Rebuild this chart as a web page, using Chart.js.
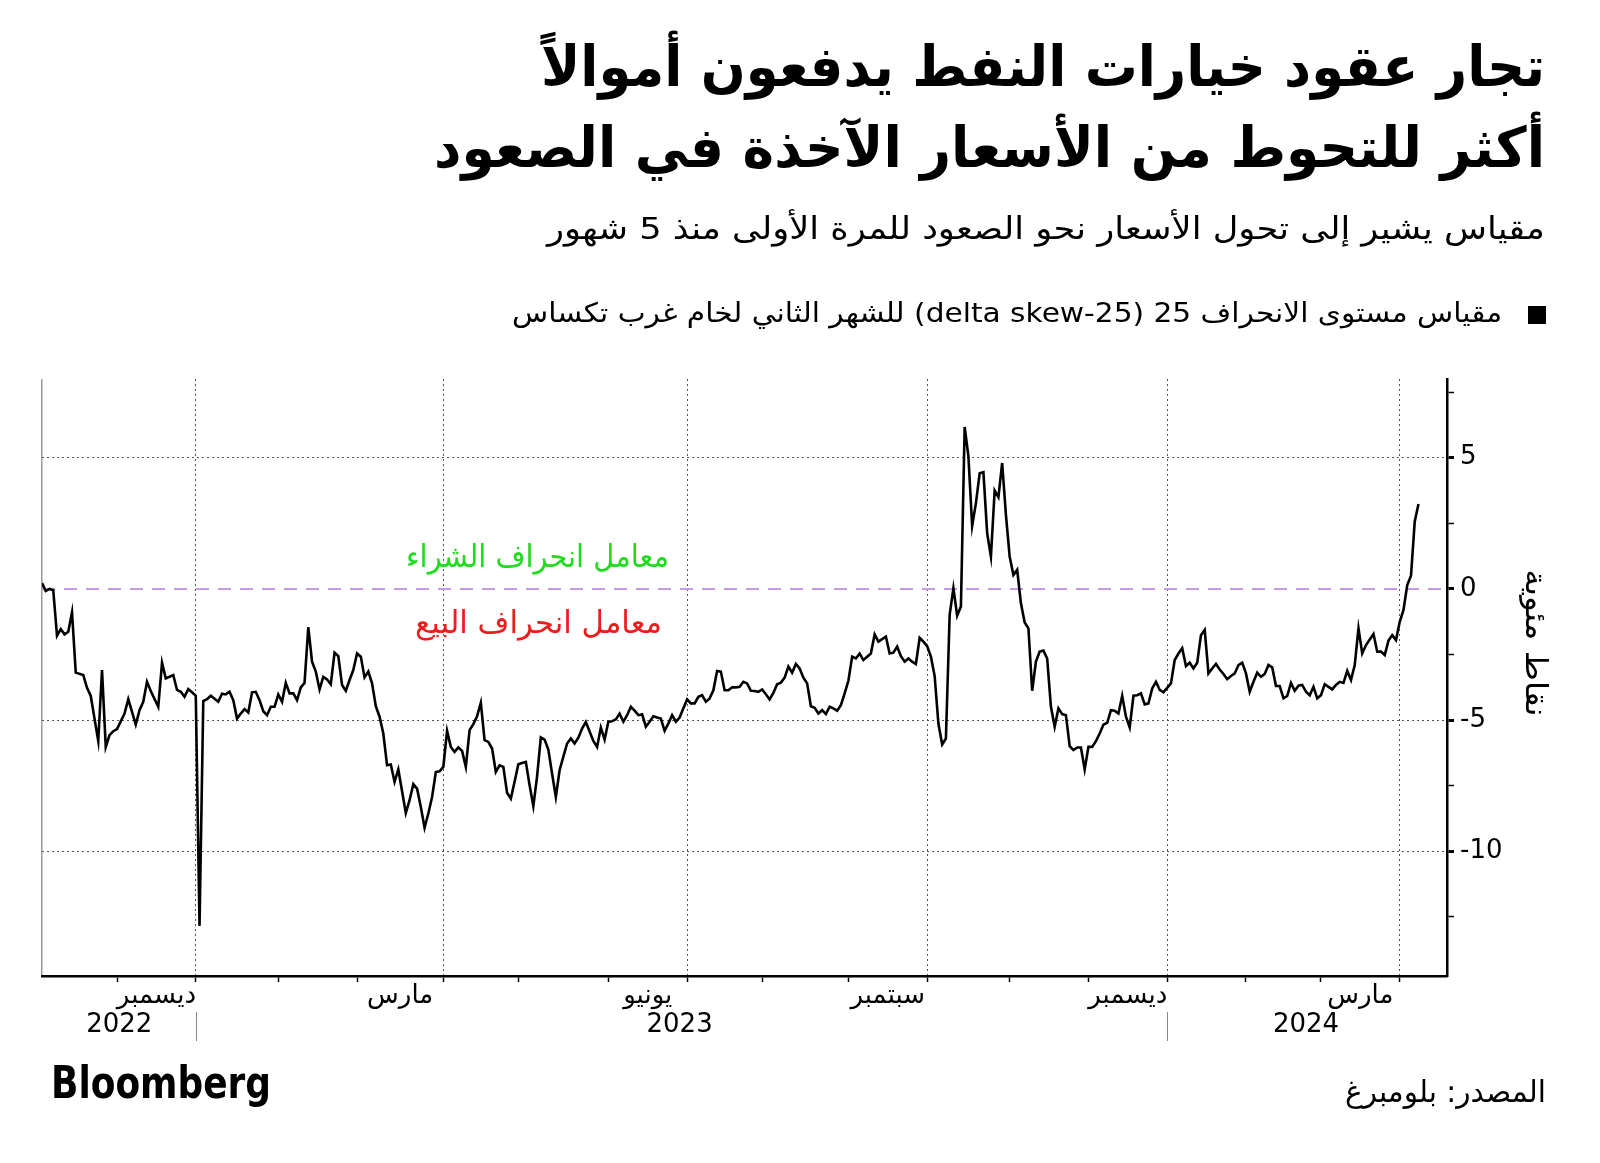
<!DOCTYPE html>
<html lang="ar">
<head>
<meta charset="utf-8">
<title>WTI 25 delta skew</title>
<script src="https://cdn.jsdelivr.net/npm/chart.js@4.4.1/dist/chart.umd.min.js"></script>
<style>
  html, body { margin: 0; padding: 0; background: #fff; }
  #wrap { width: 1600px; height: 1163px; }
</style>
</head>
<body>
<div id="wrap"><canvas id="chart" width="1600" height="1163"></canvas></div>
<script>
// ===== Data: x is the trading session counted from the first point =====
const sessions = [
  0, 1, 2, 3, 4, 5, 6, 7, 8, 9, 11, 12, 13, 15, 16, 17, 18, 19, 20, 22,
  23, 25, 26, 27, 28, 29, 31, 32, 33, 35, 36, 37, 38, 39, 40, 41, 42, 43, 44, 45,
  47, 48, 49, 50, 51, 52, 53, 54, 55, 56, 57, 58, 59, 60, 61, 62, 63,
  64, 65, 66, 67, 68, 69, 70, 71, 72, 73, 74, 75, 76, 77, 78, 79, 80, 81, 82, 83,
  84, 85, 86, 87, 88, 89, 90, 91, 92, 93, 94, 95, 97, 98, 99, 100, 101, 102, 103,
  104, 105, 106, 107, 108, 109, 110, 111, 112, 113, 114, 115, 116, 117, 118, 119,
  120, 121, 122, 123,
  124, 125, 126, 127, 128, 129, 130, 131, 132, 133, 134, 135, 136, 137, 138, 139,
  140, 141, 142, 143, 144, 145, 147, 148, 149, 150, 151, 152, 153, 154, 155, 156,
  157, 158, 159, 160, 161, 162, 163, 164, 165, 166, 167, 168, 169, 170, 171, 172,
  173, 174, 175, 176, 177, 178, 179, 180, 181, 182, 183, 184, 185,
  186, 187, 188, 189, 190, 191, 192, 193, 194, 195, 196, 197, 198, 199, 200, 201,
  202, 203, 204, 205, 206, 207, 208, 209, 210, 211, 212, 213, 214, 215, 216, 217,
  218, 219, 221, 222, 223, 225, 226, 227, 228, 229, 230, 231, 232, 233, 234, 235,
  236, 237, 238, 239, 240, 241, 242, 243, 244, 245, 246, 247,
  248, 249, 250, 251, 252, 253, 254, 255, 256, 257, 258, 259, 260, 261, 262, 263,
  264, 265, 266, 267, 268, 269, 270, 271, 272, 273, 274, 275, 276, 277, 278, 279,
  280, 281, 282, 283, 284, 285, 286, 287, 288, 289, 290, 291, 292, 293, 294, 295,
  296, 297, 298, 299, 301, 302, 303, 304, 305,
  306, 307, 308, 309, 310, 311, 312, 313, 314, 315, 316, 317, 318, 319, 320, 321,
  322, 323, 324, 325, 326, 327, 328, 329, 330, 331, 332, 333, 334, 335, 336, 337,
  338, 339, 340, 341, 342, 343, 344, 345, 346, 347, 348, 349, 350, 351, 352, 353,
  355, 356, 357, 358, 359, 360, 361, 362, 363, 364, 365, 366, 367
];
const skew = [
  0.22, -0.08, 0, -0.05, -1.78, -1.53, -1.73, -1.63, -0.89, -3.19, -3.28, -3.77, -4.08, -5.80, -3.09, -6.02, -5.57, -5.42, -5.34, -4.75,
  -4.20, -5.17, -4.62, -4.30, -3.54, -3.89, -4.49, -2.81, -3.41, -3.28, -3.85, -3.92, -4.11, -3.82, -3.94, -4.07, -12.84, -4.27, -4.20, -4.07,
  -4.30, -3.99, -4.02, -3.92, -4.24, -4.94, -4.75, -4.58, -4.71, -3.94, -3.92, -4.24, -4.66, -4.81, -4.49, -4.49, -4.02,
  -4.30, -3.58, -3.98, -3.98, -4.24, -3.75, -3.58, -1.46, -2.77, -3.15, -3.83, -3.35, -3.45, -3.63, -2.43, -2.56, -3.66, -3.88, -3.47, -3.09,
  -2.46, -2.58, -3.37, -3.15, -3.60, -4.47, -4.87, -5.51, -6.72, -6.69, -7.35, -6.88, -8.54, -8.05, -7.44, -7.61, -8.31, -9.10, -8.56,
  -7.93, -6.98, -6.95, -6.78, -5.41, -6.02, -6.21, -6.04, -6.17, -6.78, -5.38, -5.15, -4.85, -4.34, -5.76, -5.83,
  -6.08, -6.97, -6.72, -6.78,
  -7.77, -7.99, -7.35, -6.68, -6.63, -6.59, -7.48, -8.28, -7.14, -5.66, -5.74, -6.12, -7.04, -7.93, -6.91, -6.39,
  -5.89, -5.70, -5.89, -5.67, -5.32, -5.07, -5.79, -6.02, -5.28, -5.74, -5.06, -5.04, -4.97, -4.75, -5.06, -4.81,
  -4.49, -4.64, -4.81, -4.78, -5.25, -5.06, -4.85, -4.90, -4.94, -5.41, -5.13, -4.81, -5.06, -4.90, -4.55, -4.21,
  -4.36, -4.36, -4.11, -4.05, -4.30, -4.17, -3.86, -3.13, -3.15, -3.86, -3.86, -3.75, -3.75,
  -3.73, -3.54, -3.60, -3.88, -3.89, -3.92, -3.83, -4.01, -4.21, -3.96, -3.63, -3.57, -3.38, -2.96, -3.19, -2.86,
  -3.03, -3.38, -3.60, -4.47, -4.53, -4.75, -4.62, -4.77, -4.49, -4.55, -4.64, -4.43, -3.98, -3.50, -2.58, -2.65,
  -2.46, -2.71, -2.46, -1.73, -2.01, -1.82, -2.46, -2.43, -2.20, -2.56, -2.77, -2.65, -2.77, -2.86, -1.86, -2.01,
  -2.18, -2.58, -3.32, -5.13, -5.93, -5.70, -0.99, 0.03, -1.02, -0.67, 6.17, 5.05,
  2.40, 3.27, 4.41, 4.45, 2.12, 1.23, 3.75, 3.50, 4.80, 2.82, 1.23, 0.53, 0.73, -0.55, -1.28, -1.50,
  -3.88, -2.77, -2.39, -2.35, -2.65, -4.49, -5.25, -4.55, -4.77, -4.81, -5.99, -6.14, -6.04, -6.04, -6.88, -6.02,
  -6.02, -5.80, -5.51, -5.17, -5.10, -4.62, -4.64, -4.75, -4.07, -4.87, -5.28, -4.07, -4.05, -3.98, -4.40, -4.36,
  -3.79, -3.54, -3.85, -3.94, -3.60, -2.71, -2.46, -2.26, -2.94,
  -2.81, -3.03, -2.81, -1.76, -1.56, -3.22, -3.03, -2.86, -3.07, -3.24, -3.44, -3.32, -3.22, -2.90, -2.81, -3.22,
  -3.92, -3.54, -3.19, -3.35, -3.24, -2.90, -2.99, -3.70, -3.70, -4.17, -4.08, -3.58, -3.88, -3.69, -3.66, -3.92,
  -4.05, -3.73, -4.17, -4.05, -3.63, -3.73, -3.83, -3.66, -3.54, -3.58, -3.12, -3.47, -2.90, -1.50, -2.46, -2.14,
  -1.72, -2.39, -2.39, -2.52, -1.97, -1.76, -1.95, -1.25, -0.80, 0.15, 0.50, 2.57, 3.24
];

// month starts on the session axis
const monthStarts = [20, 41, 63, 84, 107, 127, 151, 172, 192, 215, 236, 258, 279, 300, 321, 341, 362];
const monthNames = ['نوفمبر', 'ديسمبر', 'يناير', 'فبراير', 'مارس', 'أبريل', 'مايو', 'يونيو',
  'يوليو', 'أغسطس', 'سبتمبر', 'أكتوبر', 'نوفمبر', 'ديسمبر', 'يناير', 'فبراير', 'مارس'];
const quarterMonths = ['ديسمبر', 'مارس', 'يونيو', 'سبتمبر'];
const yearNames = ['2022', '2023', '2024'];
const yearAt = [20.6, 170, 337];
const yearBreaks = [41, 300];

const yTicks = [-12.5, -10, -7.5, -5, -2.5, 0, 2.5, 5, 7.5];
const xMin = 0, xMax = 374.6;
const yMin = -14.75, yMax = 8;

const seriesLabel = 'مقياس مستوى الانحراف 25 (delta skew-25) للشهر الثاني لخام غرب تكساس';

// ===== x ticks: month starts, month labels, year labels =====
const xTickList = [{ value: xMin, kind: 'edge', label: '' }];
monthStarts.forEach((v, i) => {
  const q = quarterMonths.includes(monthNames[i]);
  xTickList.push({ value: v, kind: q ? 'grid' : 'tick', label: '' });
  if (q && i > 0) {
    xTickList.push({ value: (monthStarts[i - 1] + v) / 2, kind: 'label', label: monthNames[i] });
  }
});
yearAt.forEach((v, i) => xTickList.push({ value: v, kind: 'label', label: ['', yearNames[i]] }));
xTickList.sort((a, b) => a.value - b.value);

const AR = "'DejaVu Sans', sans-serif";

function fitText(ctx, text, x, y, width, font, color, align, dir) {
  ctx.save();
  ctx.font = font;
  ctx.fillStyle = color;
  ctx.direction = dir || 'rtl';
  ctx.textAlign = align || 'right';
  ctx.textBaseline = 'alphabetic';
  const w = ctx.measureText(text).width;
  ctx.translate(x, y);
  ctx.scale(width / w, 1);
  ctx.fillText(text, 0, 0);
  ctx.restore();
}

const textPlugin = {
  id: 'chartText',
  afterDraw(chart) {
    const ctx = chart.ctx;
    const xs = chart.scales.x;

    // title, subtitle
    fitText(ctx, 'تجار عقود خيارات النفط يدفعون أموالاً', 1545, 86, 1004, `bold 56px ${AR}`, '#000');
    fitText(ctx, 'أكثر للتحوط من الأسعار الآخذة في الصعود', 1545, 167, 1111, `bold 56px ${AR}`, '#000');
    fitText(ctx, 'مقياس يشير إلى تحول الأسعار نحو الصعود للمرة الأولى منذ 5 شهور', 1545, 239, 998, `31px ${AR}`, '#000');

    // legend
    ctx.fillStyle = '#000';
    ctx.fillRect(1528, 306, 18, 18);
    fitText(ctx, chart.data.datasets[0].label, 1502, 322, 990, `27px ${AR}`, '#000');

    // zone labels
    fitText(ctx, 'معامل انحراف الشراء', 669, 567, 263, `31px ${AR}`, '#1fdc1f');
    fitText(ctx, 'معامل انحراف البيع', 662, 633, 247, `31px ${AR}`, '#ee1c1c');

    // y axis title, rotated
    ctx.save();
    ctx.translate(1534, 643);
    ctx.rotate(Math.PI / 2);
    ctx.font = `30px ${AR}`;
    ctx.direction = 'rtl';
    ctx.textAlign = 'center';
    ctx.textBaseline = 'middle';
    const t = 'نقاط مئوية';
    ctx.scale(147 / ctx.measureText(t).width, 1);
    ctx.fillStyle = '#000';
    ctx.fillText(t, 0, 0);
    ctx.restore();

    // year separators under the axis
    ctx.save();
    ctx.strokeStyle = '#888';
    ctx.lineWidth = 1;
    yearBreaks.forEach(v => {
      const px = Math.round(xs.getPixelForValue(v)) + 0.5;
      ctx.beginPath();
      ctx.moveTo(px, 1012);
      ctx.lineTo(px, 1041);
      ctx.stroke();
    });
    ctx.restore();

    // footer
    fitText(ctx, 'Bloomberg', 51, 1098, 220, `bold 44px ${AR}`, '#000', 'left', 'ltr');
    fitText(ctx, 'المصدر: بلومبرغ', 1546, 1102, 201, `30px ${AR}`, '#000');
  }
};

new Chart(document.getElementById('chart'), {
  type: 'line',
  data: {
    datasets: [
      {
        label: seriesLabel,
        data: sessions.map((s, i) => ({ x: s, y: skew[i] })),
        borderColor: '#000',
        borderWidth: 2.6,
        pointRadius: 0,
        tension: 0,
        fill: false
      },
      {
        label: 'zero',
        data: [{ x: xMin, y: 0 }, { x: xMax, y: 0 }],
        borderColor: '#c49be4',
        borderWidth: 2,
        borderDash: [13, 9],
        pointRadius: 0,
        fill: false
      }
    ]
  },
  options: {
    responsive: false,
    animation: false,
    devicePixelRatio: 1,
    events: [],
    layout: { padding: { top: 379, left: 42, right: 0, bottom: 0 } },
    plugins: { legend: { display: false }, tooltip: { enabled: false } },
    scales: {
      x: {
        type: 'linear',
        min: xMin,
        max: xMax,
        afterBuildTicks: s => { s.ticks = xTickList.map(t => ({ value: t.value })); },
        afterFit: s => { s.height = 187; },
        ticks: {
          autoSkip: false,
          maxRotation: 0,
          minRotation: 0,
          padding: 0,
          color: '#000',
          font: { family: AR, size: 26, lineHeight: 1.1 },
          callback: (v, i) => xTickList[i].label
        },
        grid: {
          color: c => {
            const k = xTickList[c.index] && xTickList[c.index].kind;
            if (k === 'grid') return '#555';
            if (k === 'edge') return '#999';
            return 'rgba(0,0,0,0)';
          },
          lineWidth: c => (xTickList[c.index] && xTickList[c.index].kind === 'edge') ? 1.5 : 1,
          tickLength: 6,
          tickWidth: 1.5,
          tickColor: c => {
            const k = xTickList[c.index] && xTickList[c.index].kind;
            return (k === 'grid' || k === 'tick') ? '#000' : 'rgba(0,0,0,0)';
          }
        },
        border: {
          color: '#000',
          width: 2.5,
          dash: c => (c.tick && xTickList[c.index] && xTickList[c.index].kind === 'grid') ? [2, 3] : []
        }
      },
      y: {
        position: 'right',
        min: yMin,
        max: yMax,
        afterBuildTicks: s => { s.ticks = yTicks.map(v => ({ value: v })); },
        afterFit: s => { s.width = 153; },
        ticks: {
          padding: 6,
          color: '#000',
          font: { family: AR, size: 26 },
          callback: v => (v % 5 === 0 ? String(v) : '')
        },
        grid: {
          color: c => (c.tick && c.tick.value % 5 === 0 && c.tick.value !== 0) ? '#555' : 'rgba(0,0,0,0)',
          lineWidth: 1,
          tickLength: 7,
          tickColor: '#000',
          tickWidth: c => (c.tick && c.tick.value % 5 === 0) ? 3 : 1.5
        },
        border: {
          color: '#000',
          width: 2.5,
          dash: c => (c.tick ? [2, 3] : [])
        }
      }
    }
  },
  plugins: [textPlugin]
});
</script>
</body>
</html>
